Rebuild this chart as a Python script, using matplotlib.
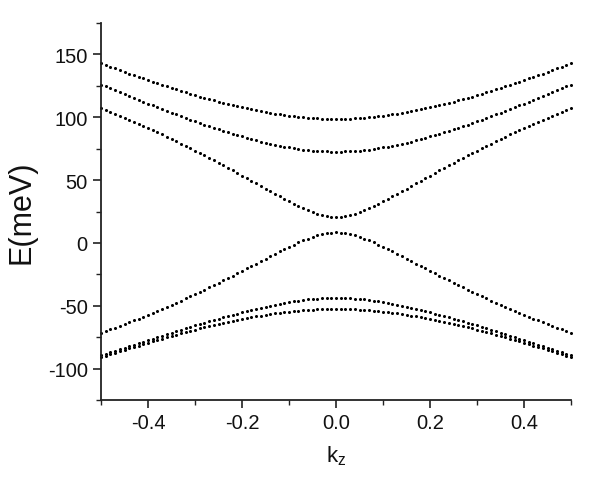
import matplotlib
matplotlib.use("Agg")
import matplotlib.pyplot as plt
from matplotlib.ticker import MultipleLocator

kz = [-0.50, -0.49, -0.48, -0.47, -0.46, -0.45, -0.44, -0.43, -0.42, -0.41,
      -0.40, -0.39, -0.38, -0.37, -0.36, -0.35, -0.34, -0.33, -0.32, -0.31,
      -0.30, -0.29, -0.28, -0.27, -0.26, -0.25, -0.24, -0.23, -0.22, -0.21,
      -0.20, -0.19, -0.18, -0.17, -0.16, -0.15, -0.14, -0.13, -0.12, -0.11,
      -0.10, -0.09, -0.08, -0.07, -0.06, -0.05, -0.04, -0.03, -0.02, -0.01,
      0.00,
      0.01, 0.02, 0.03, 0.04, 0.05, 0.06, 0.07, 0.08, 0.09, 0.10,
      0.11, 0.12, 0.13, 0.14, 0.15, 0.16, 0.17, 0.18, 0.19, 0.20,
      0.21, 0.22, 0.23, 0.24, 0.25, 0.26, 0.27, 0.28, 0.29, 0.30,
      0.31, 0.32, 0.33, 0.34, 0.35, 0.36, 0.37, 0.38, 0.39, 0.40,
      0.41, 0.42, 0.43, 0.44, 0.45, 0.46, 0.47, 0.48, 0.49, 0.50]

band1 = [143.0, 141.6, 140.2, 138.9, 137.5, 136.2, 134.8, 133.5, 132.2, 130.9, 129.6, 128.3, 127.1, 125.8, 124.6, 123.4, 122.2, 121.0, 119.9, 118.7, 117.6, 116.5, 115.5, 114.4, 113.4, 112.4, 111.4, 110.5, 109.5, 108.7, 107.8, 107.0, 106.2, 105.4, 104.7, 104.0, 103.4, 102.8, 102.2, 101.7, 101.2, 100.7, 100.3, 100.0, 99.7, 99.4, 99.2, 99.0, 98.9, 98.8,
         98.8, 98.8, 98.9, 99.0, 99.2, 99.4, 99.7, 100.0, 100.3, 100.7, 101.2, 101.7, 102.2, 102.8, 103.4, 104.0, 104.7, 105.4, 106.2, 107.0, 107.8, 108.7, 109.5, 110.5, 111.4, 112.4, 113.4, 114.4, 115.5, 116.5, 117.6, 118.7, 119.9, 121.0, 122.2, 123.4, 124.6, 125.8, 127.1, 128.3, 129.6, 130.9, 132.2, 133.5, 134.8, 136.2, 137.5, 138.9, 140.2, 141.6, 143.0]

band2 = [126.0, 124.5, 122.9, 121.4, 119.8, 118.3, 116.8, 115.3, 113.8, 112.3, 110.8, 109.4, 107.9, 106.5, 105.1, 103.6, 102.2, 100.9, 99.5, 98.1, 96.8, 95.5, 94.2, 92.9, 91.7, 90.4, 89.2, 88.0, 86.9, 85.8, 84.7, 83.6, 82.6, 81.6, 80.7, 79.8, 78.9, 78.1, 77.3, 76.6, 76.0, 75.4, 74.8, 74.3, 73.9, 73.5, 73.2, 73.0, 72.8, 72.7,
         72.7, 72.7, 72.8, 73.0, 73.2, 73.5, 73.9, 74.3, 74.8, 75.4, 76.0, 76.6, 77.3, 78.1, 78.9, 79.8, 80.7, 81.6, 82.6, 83.6, 84.7, 85.8, 86.9, 88.0, 89.2, 90.4, 91.7, 92.9, 94.2, 95.5, 96.8, 98.1, 99.5, 100.9, 102.2, 103.6, 105.1, 106.5, 107.9, 109.4, 110.8, 112.3, 113.8, 115.3, 116.8, 118.3, 119.8, 121.4, 122.9, 124.5, 126.0]

band3 = [107.0, 105.6, 104.1, 102.6, 101.1, 99.5, 97.9, 96.3, 94.7, 93.1, 91.4, 89.7, 88.0, 86.3, 84.5, 82.7, 80.9, 79.1, 77.2, 75.4, 73.5, 71.6, 69.6, 67.7, 65.7, 63.7, 61.7, 59.7, 57.7, 55.6, 53.6, 51.5, 49.4, 47.3, 45.3, 43.2, 41.1, 39.0, 37.0, 35.0, 33.0, 31.1, 29.2, 27.5, 25.9, 24.4, 23.1, 22.0, 21.2, 20.7,
         20.5, 20.7, 21.2, 22.0, 23.1, 24.4, 25.9, 27.5, 29.2, 31.1, 33.0, 35.0, 37.0, 39.0, 41.1, 43.2, 45.3, 47.3, 49.4, 51.5, 53.6, 55.6, 57.7, 59.7, 61.7, 63.7, 65.7, 67.7, 69.6, 71.6, 73.5, 75.4, 77.2, 79.1, 80.9, 82.7, 84.5, 86.3, 88.0, 89.7, 91.4, 93.1, 94.7, 96.3, 97.9, 99.5, 101.1, 102.6, 104.1, 105.6, 107.0]

band4 = [-71.4, -70.1, -68.7, -67.4, -66.0, -64.6, -63.1, -61.7, -60.2, -58.7, -57.2, -55.6, -54.1, -52.5, -50.9, -49.2, -47.6, -45.9, -44.2, -42.4, -40.7, -38.9, -37.1, -35.3, -33.5, -31.7, -29.8, -27.9, -26.0, -24.2, -22.2, -20.3, -18.4, -16.4, -14.5, -12.6, -10.6, -8.7, -6.8, -5.0, -3.1, -1.4, 0.4, 2.0, 3.5, 4.9, 6.1, 7.0, 7.8, 8.2,
         8.4, 8.2, 7.8, 7.0, 6.1, 4.9, 3.5, 2.0, 0.4, -1.4, -3.1, -5.0, -6.8, -8.7, -10.6, -12.6, -14.5, -16.4, -18.4, -20.3, -22.2, -24.2, -26.0, -27.9, -29.8, -31.7, -33.5, -35.3, -37.1, -38.9, -40.7, -42.4, -44.2, -45.9, -47.6, -49.2, -50.9, -52.5, -54.1, -55.6, -57.2, -58.7, -60.2, -61.7, -63.1, -64.6, -66.0, -67.4, -68.7, -70.1, -71.4]

band5 = [-89.5, -88.3, -87.0, -85.8, -84.6, -83.4, -82.1, -80.9, -79.7, -78.5, -77.3, -76.1, -74.9, -73.8, -72.6, -71.4, -70.3, -69.1, -68.0, -66.8, -65.7, -64.6, -63.5, -62.4, -61.3, -60.3, -59.2, -58.2, -57.2, -56.2, -55.2, -54.2, -53.3, -52.4, -51.6, -50.7, -49.9, -49.1, -48.4, -47.7, -47.1, -46.5, -45.9, -45.5, -45.0, -44.7, -44.4, -44.1, -43.9, -43.8,
         -43.8, -43.8, -43.9, -44.1, -44.4, -44.7, -45.0, -45.5, -45.9, -46.5, -47.1, -47.7, -48.4, -49.1, -49.9, -50.7, -51.6, -52.4, -53.3, -54.2, -55.2, -56.2, -57.2, -58.2, -59.2, -60.3, -61.3, -62.4, -63.5, -64.6, -65.7, -66.8, -68.0, -69.1, -70.3, -71.4, -72.6, -73.8, -74.9, -76.1, -77.3, -78.5, -79.7, -80.9, -82.1, -83.4, -84.6, -85.8, -87.0, -88.3, -89.5]

band6 = [-91.0, -89.8, -88.6, -87.4, -86.3, -85.1, -83.9, -82.8, -81.7, -80.5, -79.4, -78.3, -77.2, -76.2, -75.1, -74.0, -73.0, -72.0, -71.0, -70.0, -69.0, -68.1, -67.1, -66.2, -65.3, -64.5, -63.6, -62.8, -62.0, -61.2, -60.5, -59.8, -59.1, -58.4, -57.8, -57.2, -56.6, -56.1, -55.6, -55.1, -54.7, -54.3, -53.9, -53.6, -53.4, -53.1, -52.9, -52.8, -52.7, -52.6,
         -52.6, -52.6, -52.7, -52.8, -52.9, -53.1, -53.4, -53.6, -53.9, -54.3, -54.7, -55.1, -55.6, -56.1, -56.6, -57.2, -57.8, -58.4, -59.1, -59.8, -60.5, -61.2, -62.0, -62.8, -63.6, -64.5, -65.3, -66.2, -67.1, -68.1, -69.0, -70.0, -71.0, -72.0, -73.0, -74.0, -75.1, -76.2, -77.2, -78.3, -79.4, -80.5, -81.7, -82.8, -83.9, -85.1, -86.3, -87.4, -88.6, -89.8, -91.0]

bands = [band1, band2, band3, band4, band5, band6]

plt.rcParams['font.family'] = ['Liberation Sans', 'DejaVu Sans']

fig = plt.figure(figsize=(5.97, 4.85), dpi=100)
ax = fig.add_axes([0.1692, 0.1732, 0.7873, 0.7773])

for b in bands:
    ax.plot(kz, b, linestyle='none', marker='o', markersize=2.2,
            color='black', markeredgewidth=0, clip_on=False)

ax.set_xlim(-0.5, 0.5)
ax.set_ylim(-125, 175)
ax.xaxis.set_minor_locator(MultipleLocator(0.1))
ax.set_xticks([-0.4, -0.2, 0.0, 0.2, 0.4])
ax.set_xticklabels(['-0.4', '-0.2', '0.0', '0.2', '0.4'])
ax.set_yticks([-100, -50, 0, 50, 100, 150])
ax.set_yticklabels(['-100', '-50', '0', '50', '100', '150'])
ax.yaxis.set_minor_locator(MultipleLocator(25))

for s in ['top', 'right']:
    ax.spines[s].set_visible(False)
for s in ['left', 'bottom']:
    ax.spines[s].set_linewidth(1.3)
    ax.spines[s].set_color('#222222')

ax.tick_params(which='major', direction='out', length=5.5, width=1.2,
               labelsize=14.5, pad=4, colors='#222222', labelcolor='#111111')
ax.tick_params(which='minor', direction='out', length=3.5, width=1.0,
               colors='#222222')

ax.set_ylabel('E(meV)', fontsize=22, labelpad=8, color='#111111')
ax.set_xlabel('k$_\\mathregular{z}$', fontsize=16, labelpad=8, color='#111111')

fig.savefig('out.png', dpi=100)
